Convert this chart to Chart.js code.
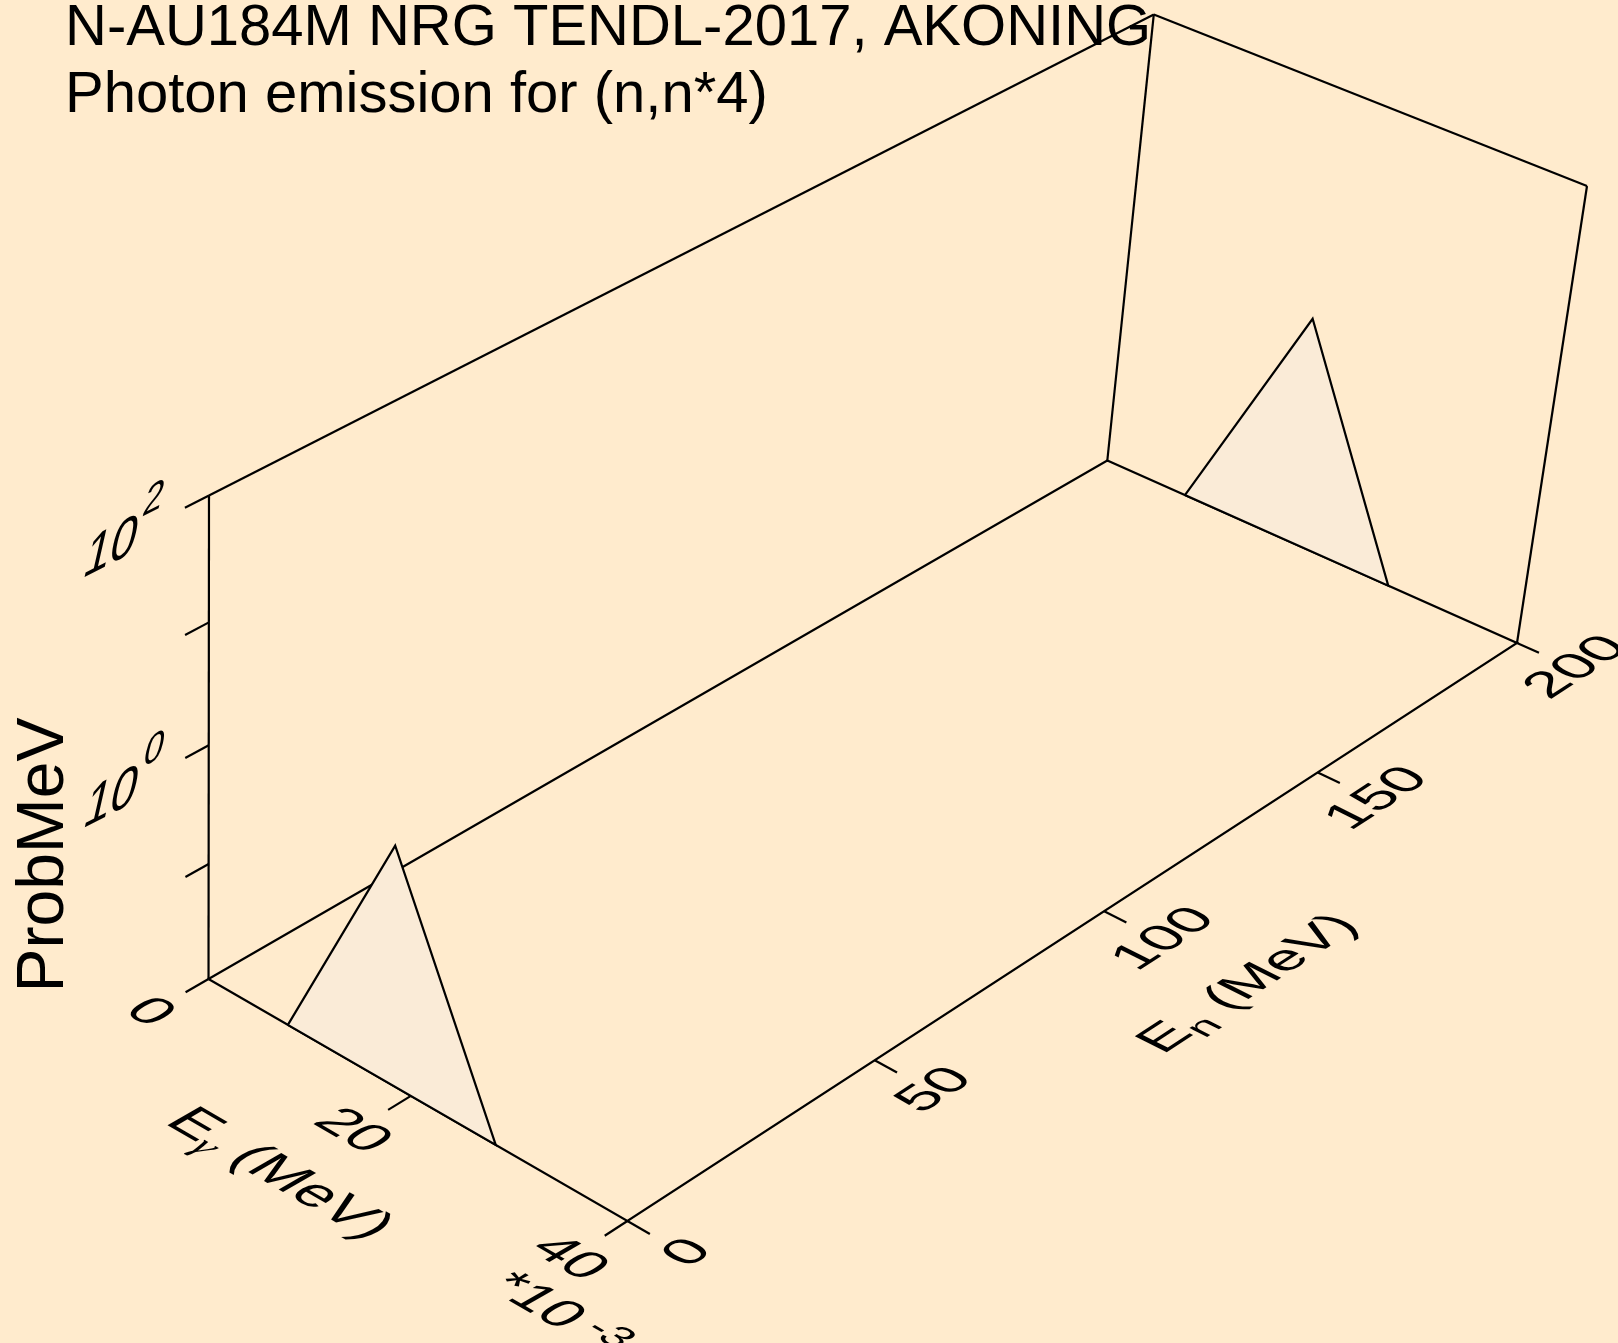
<!DOCTYPE html>
<html>
<head>
<meta charset="utf-8">
<title>N-AU184M photon emission (n,n*4)</title>
<script src="https://cdn.jsdelivr.net/npm/chart.js@4/dist/chart.umd.min.js"></script>
<style>
  html, body { margin: 0; padding: 0; background: #FFEBCD; }
  #wrap { width: 1618px; height: 1343px; position: relative; }
</style>
</head>
<body>
<div id="wrap"><canvas id="plot"></canvas></div>
<script>
// ---- data ----
const photonEnergy = [0.008, 0.018, 0.028];   // Eγ (MeV)
const incidentEnergy = [0, 200];               // En (MeV)
const probAtEn0 = [0, 1.04, 0];                // ProbMeV
const probAtEn200 = [0, 1.06, 0];

const egTicks = [0, 0.02, 0.04];
const egTickLabels = ['0', '20', '40'];
const enTicks = [0, 50, 100, 150, 200];
const enTickLabels = ['0', '50', '100', '150', '200'];
const probTicks = [0.1, 1, 10, 100];
const probTickExp = ['', '0', '', '2'];

const egMax = 0.04, enMax = 200, zMin = -2, zMax = 2;

// ---- 3d box layout (screen anchors of the cube corners, uvw) ----
const W = 1618, H = 1343;
const corner = {
  '000': [208.5, 979], '100': [627.4, 1221], '010': [1107.3, 460.5], '110': [1517, 643],
  '001': [209, 495.4], '101': [651, 726], '011': [1153.8, 14.4], '111': [1587, 186],
};
const persp = { u: -0.065, v: 0.155, w: -0.064 };
const font = '"Liberation Sans", Arial, sans-serif';

function warp(s, k) {
  return s * (1 + k) / (1 + k * s);
}

function project(su, sv, sw) {
  const a = warp(su, persp.u), b = warp(sv, persp.v), c = warp(sw, persp.w);
  let x = 0, y = 0;
  for (const key in corner) {
    const f = (key[0] === '1' ? a : 1 - a) * (key[1] === '1' ? b : 1 - b) * (key[2] === '1' ? c : 1 - c);
    x += f * corner[key][0];
    y += f * corner[key][1];
  }
  return { x, y };
}

function pt(eg, en, prob) {
  const lp = prob > 0 ? Math.max(Math.log10(prob), zMin) : zMin;
  return project(eg / egMax, en / enMax, (lp - zMin) / (zMax - zMin));
}

function seg(points, extra) {
  return Object.assign({
    data: points,
    borderColor: '#000',
    borderWidth: 2.2,
    borderJoinStyle: 'miter',
    pointRadius: 0,
    fill: false,
    order: 2,
  }, extra);
}

const datasets = [];

// box frame
datasets.push(seg([project(0, 0, 0), project(1, 0, 0), project(1, 1, 0), project(0, 1, 0), project(0, 0, 0)]));
datasets.push(seg([project(0, 0, 0), project(0, 0, 1)]));
datasets.push(seg([project(0, 0, 1), project(0, 1, 1)]));
datasets.push(seg([project(0, 1, 0), project(0, 1, 1)]));
datasets.push(seg([project(0, 1, 1), project(1, 1, 1)]));
datasets.push(seg([project(1, 1, 0), project(1, 1, 1)]));

// ticks
egTicks.forEach(e => datasets.push(seg([project(e / egMax, 0, 0), project(e / egMax, -0.022, 0)])));
enTicks.forEach(e => datasets.push(seg([project(1, e / enMax, 0), project(1.05, e / enMax, 0)])));
probTicks.forEach(p => datasets.push(seg([pt(0, 0, p), project(0, -0.022, (Math.log10(p) - zMin) / (zMax - zMin))])));

// spectra (closed so the base edge stays black over the fill)
[probAtEn0, probAtEn200].forEach((probs, i) => {
  const pts = photonEnergy.map((e, j) => pt(e, incidentEnergy[i], probs[j]));
  pts.push(pts[0]);
  datasets.push(seg(pts, {
    fill: 'shape',
    backgroundColor: '#FAEBD7',
    order: 1,
  }));
});

// ---- text ----
function runFont(r) {
  return r.font || (r.size + 'px ' + font);
}

function runsWidth(ctx, runs) {
  let w = 0;
  runs.forEach(r => {
    ctx.font = runFont(r);
    w += ctx.measureText(r.t).width;
  });
  return w;
}

// draw text in a skewed plane: b = baseline direction, u = up direction
function planeText(ctx, runs, x, y, b, u, align) {
  ctx.save();
  ctx.setTransform(b[0], b[1], -u[0], -u[1], x, y);
  ctx.fillStyle = '#000';
  ctx.textBaseline = 'alphabetic';
  ctx.textAlign = 'left';
  let cx = align === 'center' ? -runsWidth(ctx, runs) / 2 : 0;
  const base = align === 'center' ? runs[0].size * 0.36 : 0;
  runs.forEach(r => {
    ctx.font = runFont(r);
    ctx.fillText(r.t, cx, base - (r.dy || 0));
    cx += ctx.measureText(r.t).width;
  });
  ctx.restore();
}

const egDir = [0.866, 0.5], egUp = [0.8, -0.46];
const enDir = [0.8385, -0.545], enUp = [-0.8, -0.4];
const zDir = [0.757, -0.383], zUp = [0.22, -0.97];

const labelPlugin = {
  id: 'labels',
  afterDraw(chart) {
    const ctx = chart.ctx;
    ctx.save();
    ctx.fillStyle = '#000';
    ctx.font = '58px ' + font;
    ctx.textBaseline = 'alphabetic';
    ctx.fillText('N-AU184M NRG TENDL-2017, AKONING', 65, 45);
    ctx.fillText('Photon emission for (n,n*4)', 65, 112);

    ctx.translate(63, 855);
    ctx.rotate(-Math.PI / 2);
    ctx.font = '66px ' + font;
    ctx.textAlign = 'center';
    ctx.fillText('ProbMeV', 0, 0);
    ctx.restore();

    egTicks.forEach((e, i) => {
      const p = project(e / egMax, -0.055, 0);
      planeText(ctx, [{ t: egTickLabels[i], size: 58 }], p.x + 2, p.y - 2, egDir, egUp, 'center');
    });
    enTicks.forEach((e, i) => {
      const p = project(1.115, e / enMax, 0);
      planeText(ctx, [{ t: enTickLabels[i], size: 58 }], p.x + 5, p.y, enDir, enUp, 'center');
    });
    probTicks.forEach((v, i) => {
      if (!probTickExp[i]) return;
      const p = project(0, -0.022, (Math.log10(v) - zMin) / (zMax - zMin));
      planeText(ctx, [{ t: '10', size: 62 }, { t: probTickExp[i], size: 46, dy: 36 }],
        p.x - 104, p.y + 71, zDir, zUp, 'left');
    });

    planeText(ctx, [
      { t: 'E', size: 60 },
      { t: 'γ', size: 42, dy: -12, font: 'italic 42px "Liberation Serif", "DejaVu Serif", serif' },
      { t: ' (MeV)', size: 60 },
    ], 283, 1172, egDir, egUp, 'center');
    planeText(ctx, [{ t: '*10', size: 58 }, { t: ' -3', size: 44, dy: 14 }],
      562, 1312, egDir, egUp, 'center');
    planeText(ctx, [{ t: 'E', size: 58 }, { t: 'n', size: 42, dy: -12 }, { t: ' (MeV)', size: 58 }],
      1245, 982, enDir, enUp, 'center');
  },
};

new Chart(document.getElementById('plot').getContext('2d'), {
  type: 'line',
  data: { datasets },
  options: {
    responsive: true,
    maintainAspectRatio: false,
    animation: false,
    layout: { padding: 0 },
    plugins: {
      legend: { display: false },
      tooltip: { enabled: false },
    },
    elements: { line: { tension: 0 } },
    scales: {
      x: { type: 'linear', display: false, min: 0, max: W },
      y: { type: 'linear', display: false, min: 0, max: H, reverse: true },
    },
  },
  plugins: [labelPlugin],
});
</script>
</body>
</html>
